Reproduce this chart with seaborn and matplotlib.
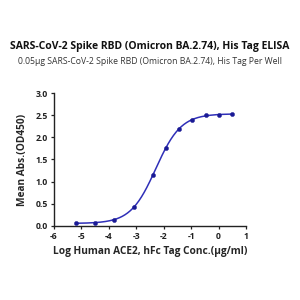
import numpy as np
import pandas as pd
import matplotlib
matplotlib.use("Agg")
import matplotlib.pyplot as plt
import seaborn as sns

log_conc = [-5.21, -4.50, -3.80, -3.09, -2.39, -1.92, -1.43, -0.96, -0.47, 0.0, 0.49]
od450 = [0.053, 0.068, 0.136, 0.42, 1.15, 1.77, 2.20, 2.40, 2.50, 2.51, 2.53]
x_ticks = [-6, -5, -4, -3, -2, -1, 0, 1]
y_ticks = [0.0, 0.5, 1.0, 1.5, 2.0, 2.5, 3.0]
title = "SARS-CoV-2 Spike RBD (Omicron BA.2.74), His Tag ELISA"
subtitle = "0.05\u03bcg SARS-CoV-2 Spike RBD (Omicron BA.2.74), His Tag Per Well"
xlabel = "Log Human ACE2, hFc Tag Conc.(\u03bcg/ml)"
ylabel = "Mean Abs.(OD450)"

df = pd.DataFrame({"x": log_conc, "y": od450})

# 4-parameter logistic fit of the data points (Gauss-Newton)
def f4(p, x):
    b, t, c, h = p
    return b + (t - b) / (1 + 10 ** ((c - x) * h))

xa = np.array(log_conc); ya = np.array(od450)
p = np.array([0.05, 2.5, -2.3, 1.2])
for _ in range(200):
    r = ya - f4(p, xa)
    J = np.zeros((len(xa), 4))
    for i in range(4):
        dp = np.zeros(4); dp[i] = 1e-6
        J[:, i] = (f4(p + dp, xa) - f4(p - dp, xa)) / 2e-6
    step, *_ = np.linalg.lstsq(J, r, rcond=None)
    p = p + 0.5 * step
xf = np.linspace(min(log_conc), max(log_conc), 300)
fit = pd.DataFrame({"x": xf, "y": f4(p, xf)})

sns.set_style("ticks")
plt.rcParams["font.family"] = ["Open Sans", "DejaVu Sans"]

fig = plt.figure(figsize=(3, 3), dpi=100)
ax = fig.add_axes([0.18, 0.248, 0.64, 0.441])
sns.lineplot(data=fit, x="x", y="y", ax=ax, color="#2f2fb8", linewidth=1.1)
sns.scatterplot(data=df, x="x", y="y", ax=ax, color="#1a1a95", s=9, edgecolor="#1a1a95", linewidth=0.3, zorder=3)

ax.set_xlim(-6, 1)
ax.set_ylim(0, 3)
ax.set_xticks(x_ticks)
ax.set_xticklabels([str(v) for v in x_ticks], fontsize=6.2, fontweight="bold")
ax.set_yticks(y_ticks)
ax.set_yticklabels([f"{v:.1f}" for v in y_ticks], fontsize=6.2, fontweight="bold")
ax.tick_params(length=2.5, width=0.9, pad=2, colors="#222222")
for s in ["left", "bottom"]:
    ax.spines[s].set_linewidth(1.0)
    ax.spines[s].set_color("#222222")
sns.despine(ax=ax)
ax.set_xlabel(xlabel, fontsize=7.3, fontweight="bold", labelpad=4)
ax.set_ylabel(ylabel, fontsize=7.3, fontweight="bold", labelpad=5)

fig.text(0.5, 0.845, title, ha="center", va="center", fontsize=7.5, fontweight="bold", color="#111111")
fig.text(0.5, 0.795, subtitle, ha="center", va="center", fontsize=6.2, color="#333333")

fig.savefig("out.png", dpi=100, facecolor="white")
